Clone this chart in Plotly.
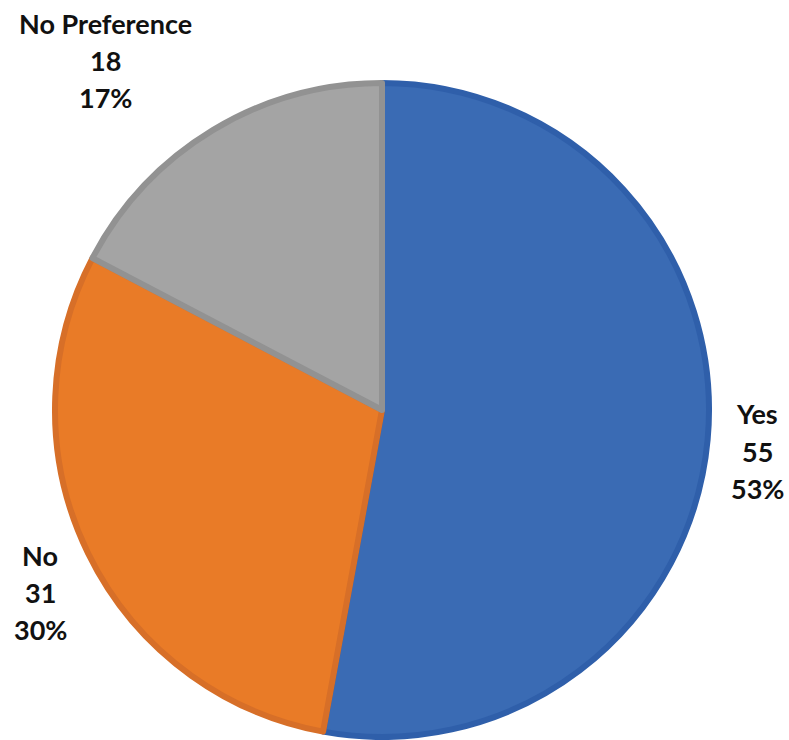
import plotly.graph_objects as go

labels = ["Yes", "No", "No Preference"]
values = [55, 31, 18]
fill_colors = ["#3A6BB4", "#E97B27", "#A4A4A4"]
line_colors = ["#2F5FAA", "#D76F28", "#929292"]

W, H = 789, 740
total = sum(values)
pcts = [f"{round(v / total * 100)}%" for v in values]

fig = go.Figure(go.Pie(
    labels=labels,
    values=values,
    sort=False,
    direction="clockwise",
    rotation=0,
    textinfo="none",
    hoverinfo="label+value+percent",
    marker=dict(colors=fill_colors, line=dict(color=line_colors, width=6)),
    domain=dict(x=[(382 - 327) / W, (382 + 327) / W], y=[3 / H, 657 / H]),
    showlegend=False,
))

# label block centers (pixels)
label_pos = {"Yes": (757, 451), "No": (40, 592), "No Preference": (105, 60)}
spacing = 37
annotations = []
for lab, val, pct in zip(labels, values, pcts):
    cx, cy = label_pos[lab]
    for i, line in enumerate([lab, str(val), pct]):
        y = cy + (i - 1) * spacing
        annotations.append(dict(
            x=cx / W, y=1 - y / H, xref="paper", yref="paper",
            text=f"<b>{line}</b>", showarrow=False,
            xanchor="center", yanchor="middle",
            font=dict(family="Lato", size=27, color="#111111"),
        ))

fig.update_layout(
    width=W, height=H,
    margin=dict(l=0, r=0, t=0, b=0),
    paper_bgcolor="white",
    plot_bgcolor="white",
    annotations=annotations,
)

fig.write_html(
    "out.html",
    config={"displayModeBar": False},
    post_script="document.body.style.margin='0';document.body.style.overflow='hidden';",
)
